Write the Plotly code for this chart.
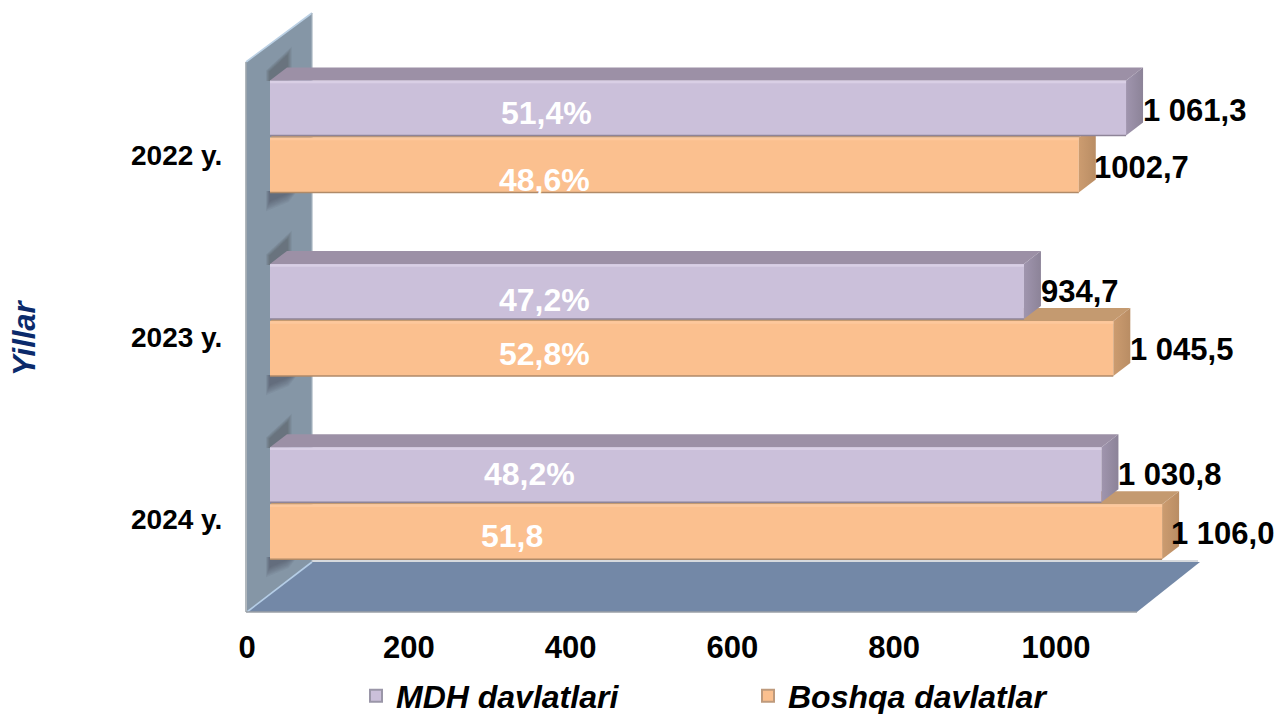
import plotly.graph_objects as go

W, H = 1279, 714

years = ["2022 y.", "2023 y.", "2024 y."]
series_names = ["MDH davlatlari", "Boshqa davlatlar"]
mdh_values = [1061.3, 934.7, 1030.8]
boshqa_values = [1002.7, 1045.5, 1106.0]
mdh_labels = ["1 061,3", "934,7", "1 030,8"]
boshqa_labels = ["1002,7", "1 045,5", "1 106,0"]
mdh_shares = ["51,4%", "47,2%", "48,2%"]
boshqa_shares = ["48,6%", "52,8%", "51,8"]
x_ticks = [0, 200, 400, 600, 800, 1000]

# ---- layout geometry (pixels of the 1279x714 page) ----
BAR_SCALE = 0.8066      # px per unit, front plane of the bars
BAR_X0 = 270            # px of value 0, front plane
BAND = 183.4            # px per category
BAR_Y0 = 136.5          # px of first category centre
DEPTH_X, DEPTH_Y = 17, 13
BAR_H = 55
GAP = 2
TICK_SCALE = 0.809
TICK_X0 = 247
LAB_BAND = 182
LAB_Y0 = 155
share_xy_mdh = [(546, 113), (544, 300), (529, 474)]
share_xy_bos = [(544, 180), (544, 354), (512, 536)]
lab_dy_mdh = [2, 0, 0]
lab_dy_bos = [2, 1, 2]
lab_dx_bos = [-2, 0, -8]

FONT = "Liberation Sans, Arial, sans-serif"
MDH = dict(front="#CBC0DA", top="#9C90A6", s1="#A095AE", s2="#8C8398",
           hi="#D9CFE5", lo="#8E8498", sw="#9A96A8")
BOS = dict(front="#FBC08F", top="#C49A70", s1="#CC9C70", s2="#B98D64",
           hi="#FDC89C", lo="#B08A68", sw="#BE9A7C")
dx_u = DEPTH_X / BAR_SCALE
dy_u = DEPTH_Y / BAND
h_u = BAR_H / BAND
gap_u = GAP / BAND


def px(x):
    return x / W


def py(y):
    return 1 - y / H


def path(points):
    return "M" + " L".join(f"{px(a):.5f},{py(b):.5f}" for a, b in points) + " Z"


def poly(points, fill, line=None, width=0, layer="below"):
    return dict(type="path", xref="paper", yref="paper", path=path(points),
                fillcolor=fill, layer=layer,
                line=dict(color=line or "rgba(0,0,0,0)", width=width))


def seg(x0, y0, x1, y1, color, width=1.2):
    return dict(type="line", xref="paper", yref="paper", layer="below",
                x0=px(x0), y0=py(y0), x1=px(x1), y1=py(y1),
                line=dict(color=color, width=width))


shapes = [
    poly([(246, 62), (312, 13), (312, 562), (247, 612)], "#8596A6"),
    poly([(247, 612), (312, 562), (1200, 562), (1137, 612)], "#7388A7"),
    seg(246, 62, 312, 13, "#BBD0E4", 1.6),
    seg(247, 612, 312, 562, "#B5CDE6", 1.6),
    seg(312, 13, 312, 562, "#A8B6C2", 1.2),
    seg(246, 62, 246, 612, "#9DA5AC", 1.6),
    seg(246, 612, 1137, 612, "#9A9FA6", 1.6),
    seg(312, 561, 1198, 561, "#C8CCD2", 1.6),
]
# soft shadows the bars throw on the wall
for top_y, bottom_y in [(68, 192), (252, 376), (435, 558)]:
    for k in range(8):
        grow = 16 - 2 * k
        shapes.append(poly([(270 - grow * 0.25, top_y + 13),
                            (270 - grow * 0.25, top_y + 4 - grow * 0.1),
                            (287 + grow * 0.3, top_y - 12 - grow * 0.6),
                            (287 + grow * 0.3, top_y + 13)],
                           "rgba(50,58,68,0.05)"))
        shapes.append(poly([(270 - grow * 0.25, bottom_y - 1),
                            (294 + grow * 0.2, bottom_y - 1),
                            (284 + grow * 0.3, bottom_y + 2 + grow * 0.5),
                            (270 - grow * 0.25, bottom_y + 8 + grow * 0.7)],
                           "rgba(50,58,68,0.06)"))

fig = go.Figure()
# invisible carrier for the tick axes
fig.add_trace(go.Scatter(x=mdh_values, y=list(range(len(years))), mode="markers",
                         marker=dict(opacity=0), showlegend=False, hoverinfo="skip",
                         xaxis="x", yaxis="y"))


def add_series(values, name, st, offset, xa, ya, rank):
    pos = list(range(len(values)))
    fig.add_trace(go.Bar(x=values, y=pos, orientation="h", width=h_u, offset=offset,
                         name=name, marker=dict(color=st["front"], line=dict(width=0)),
                         xaxis=xa, yaxis=ya, showlegend=False, hoverinfo="skip"))
    # key entry only: same colour as the bars, with the grey rim of the reference key
    fig.add_trace(go.Bar(x=[None], y=[None], orientation="h", name=name,
                         marker=dict(color=st["front"], line=dict(color=st["sw"], width=2)),
                         xaxis=xa, yaxis=ya, legendrank=rank, hoverinfo="skip"))
    for v, p in zip(values, pos):
        y1 = p + offset
        y2 = y1 + h_u
        fig.add_trace(go.Scatter(
            x=[0, dx_u, v + dx_u, v, 0], y=[y1, y1 - dy_u, y1 - dy_u, y1, y1],
            mode="lines", fill="toself", fillcolor=st["top"], line=dict(width=0),
            showlegend=False, hoverinfo="skip", xaxis=xa, yaxis=ya))
        fig.add_trace(go.Scatter(
            x=[v, v + dx_u, v + dx_u, v, v],
            y=[y1, y1 - dy_u, y2 - dy_u, y2, y1],
            mode="lines", fill="toself",
            fillgradient=dict(type="horizontal",
                              colorscale=[[0, st["s1"]], [1, st["s2"]]]),
            line=dict(width=0), showlegend=False, hoverinfo="skip",
            xaxis=xa, yaxis=ya))
        fig.add_trace(go.Scatter(x=[0, v], y=[y1 + 1.5 / BAND] * 2, mode="lines",
                                 line=dict(color=st["hi"], width=2.5), showlegend=False,
                                 hoverinfo="skip", xaxis=xa, yaxis=ya))
        fig.add_trace(go.Scatter(x=[0, v], y=[y2, y2], mode="lines",
                                 line=dict(color=st["lo"], width=1.5), showlegend=False,
                                 hoverinfo="skip", xaxis=xa, yaxis=ya))


add_series(boshqa_values, series_names[1], BOS, gap_u / 2, "x2", "y2", 2)
add_series(mdh_values, series_names[0], MDH, -h_u - gap_u / 2, "x3", "y3", 1)

annotations = []
for i in range(len(years)):
    annotations.append(dict(
        xref="x3", yref="y3", x=mdh_values[i] + dx_u, y=i - h_u / 2 - gap_u / 2,
        text=mdh_labels[i], xanchor="left", yanchor="middle", showarrow=False,
        yshift=-lab_dy_mdh[i], borderpad=0, borderwidth=0,
        font=dict(family=FONT, size=31, color="#000000", weight="bold")))
    annotations.append(dict(
        xref="x3", yref="y3", x=boshqa_values[i] + dx_u, y=i + h_u / 2 + gap_u / 2,
        text=boshqa_labels[i], xanchor="left", yanchor="middle", showarrow=False,
        yshift=-lab_dy_bos[i], xshift=lab_dx_bos[i], borderpad=0, borderwidth=0,
        font=dict(family=FONT, size=31, color="#000000", weight="bold")))
    for txt, (a, b) in ((mdh_shares[i], share_xy_mdh[i]), (boshqa_shares[i], share_xy_bos[i])):
        annotations.append(dict(
            xref="paper", yref="paper", x=px(a), y=py(b), text=txt, showarrow=False,
            xanchor="center", yanchor="middle",
            font=dict(family=FONT, size=32, color="#FFFFFF", weight="bold")))
annotations.append(dict(
    xref="paper", yref="paper", x=px(24), y=py(338), text="Yillar", textangle=-90,
    showarrow=False, xanchor="center", yanchor="middle",
    font=dict(family=FONT, size=31, color="#0B2A6B", weight="bold", style="italic")))

hidden = dict(visible=False, fixedrange=True)
bar_xr = [-BAR_X0 / BAR_SCALE, (W - BAR_X0) / BAR_SCALE]
bar_yr = [(H - BAR_Y0) / BAND, -BAR_Y0 / BAND]

fig.update_layout(
    width=W, height=H, margin=dict(l=0, r=0, t=0, b=0, autoexpand=False),
    paper_bgcolor="#FFFFFF", plot_bgcolor="rgba(0,0,0,0)",
    barmode="overlay", shapes=shapes, annotations=annotations,
    xaxis=dict(domain=[0, 1], range=[-TICK_X0 / TICK_SCALE, (W - TICK_X0) / TICK_SCALE],
               anchor="free", position=py(612), tickmode="array", tickvals=x_ticks,
               ticktext=[str(t) for t in x_ticks], showgrid=False, zeroline=False,
               showline=False, ticks="outside", ticklen=8, tickcolor="rgba(0,0,0,0)",
               tickfont=dict(family=FONT, size=31, color="#000000", weight="bold")),
    yaxis=dict(domain=[0, 1], range=[(H - LAB_Y0) / LAB_BAND, -LAB_Y0 / LAB_BAND],
               anchor="free", position=px(246), tickmode="array",
               tickvals=list(range(len(years))), ticktext=years, showgrid=False,
               zeroline=False, showline=False, ticks="outside", ticklen=18,
               tickcolor="rgba(0,0,0,0)",
               tickfont=dict(family=FONT, size=28, color="#000000", weight="bold")),
    xaxis2=dict(hidden, overlaying="x", range=bar_xr),
    yaxis2=dict(hidden, overlaying="y", range=bar_yr),
    xaxis3=dict(hidden, overlaying="x", range=bar_xr),
    yaxis3=dict(hidden, overlaying="y", range=bar_yr),
    legend=dict(orientation="h", x=px(356), y=py(696), xanchor="left", yanchor="middle",
                entrywidth=347, entrywidthmode="pixels", traceorder="normal",
                bgcolor="rgba(0,0,0,0)", borderwidth=0,
                font=dict(family=FONT, size=32, color="#000000", weight="bold", style="italic")),
)

fig.write_html("out.html", config=dict(displayModeBar=False),
               post_script="document.body.style.margin='0';")
